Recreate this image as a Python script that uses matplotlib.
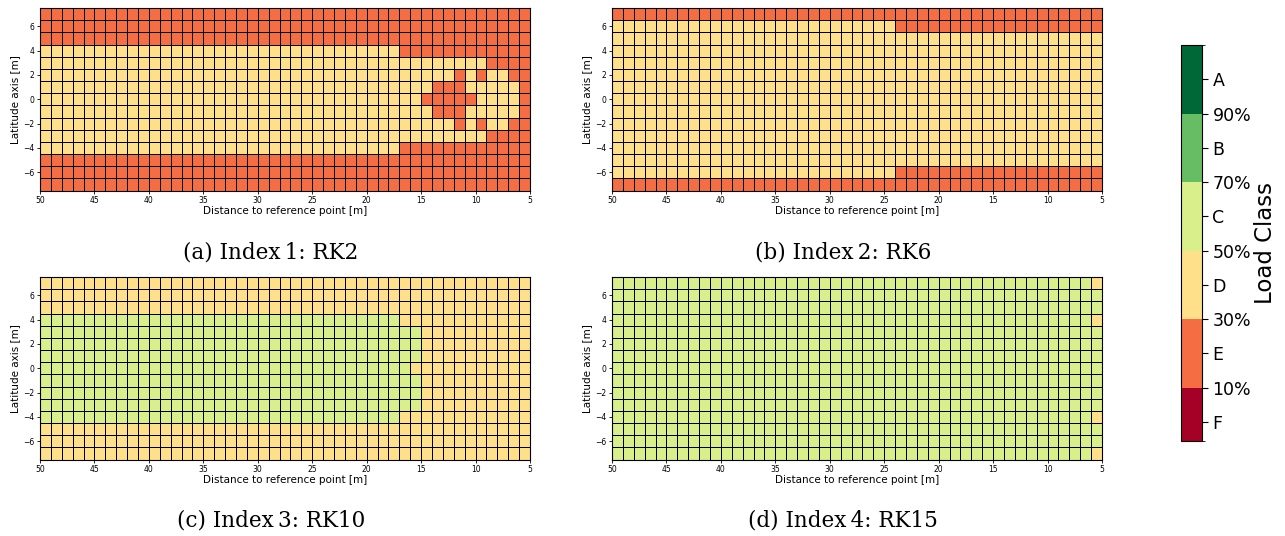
import numpy as np
import matplotlib
matplotlib.use("Agg")
import matplotlib.pyplot as plt
from matplotlib.colors import ListedColormap, BoundaryNorm
from matplotlib.cm import ScalarMappable

# Klassen von schlecht (F) bis gut (A)
classes = ["F", "E", "D", "C", "B", "A"]
class_colors = ["#a50026", "#f46d43", "#fee08b", "#d9ef8b", "#66bd63", "#006837"]
percent_labels = ["10%", "30%", "50%", "70%", "90%"]

x_edges = np.arange(50, 4, -1)          # 50 ... 5 m
y_edges = np.arange(-7.5, 8.0, 1.0)     # -7.5 ... 7.5 m
x_ticks = np.arange(50, 4, -5)
y_ticks = np.arange(-6, 7, 2)

# Zeilen von oben (y=7) nach unten (y=-7), Spalten von x=50 bis x=5
rk2 = [
    "E" * 45,
    "E" * 45,
    "E" * 45,
    "D" * 33 + "E" * 12,
    "D" * 41 + "E" * 4,
    "D" * 38 + "EDEDDEE",
    "D" * 36 + "EEE" + "D" * 5 + "E",
    "D" * 35 + "E" * 5 + "D" * 4 + "E",
    "D" * 36 + "EEE" + "D" * 5 + "E",
    "D" * 38 + "EDEDDEE",
    "D" * 41 + "E" * 4,
    "D" * 33 + "E" * 12,
    "E" * 45,
    "E" * 45,
    "E" * 45,
]

rk6 = [
    "E" * 45,
    "D" * 26 + "E" * 19,
    "D" * 45,
    "D" * 45,
    "D" * 45,
    "D" * 45,
    "D" * 45,
    "D" * 45,
    "D" * 45,
    "D" * 45,
    "D" * 45,
    "D" * 45,
    "D" * 45,
    "D" * 26 + "E" * 19,
    "E" * 45,
]

rk10 = [
    "D" * 45,
    "D" * 45,
    "D" * 45,
    "C" * 33 + "D" * 12,
    "C" * 35 + "D" * 10,
    "C" * 35 + "D" * 10,
    "C" * 35 + "D" * 10,
    "C" * 34 + "D" * 11,
    "C" * 35 + "D" * 10,
    "C" * 35 + "D" * 10,
    "C" * 35 + "D" * 10,
    "C" * 33 + "D" * 12,
    "D" * 45,
    "D" * 45,
    "D" * 45,
]

rk15 = [
    "C" * 44 + "D",
    "C" * 45,
    "C" * 45,
    "C" * 44 + "D",
    "C" * 45,
    "C" * 45,
    "C" * 45,
    "C" * 45,
    "C" * 45,
    "C" * 45,
    "C" * 45,
    "C" * 44 + "D",
    "C" * 45,
    "C" * 45,
    "C" * 44 + "D",
]

panels = [rk2, rk6, rk10, rk15]
captions = ["(a) Index\u20091: RK2", "(b) Index\u20092: RK6",
            "(c) Index\u20093: RK10", "(d) Index\u20094: RK15"]

cmap = ListedColormap(class_colors)
norm = BoundaryNorm(np.arange(-0.5, 6.0, 1.0), cmap.N)


def to_array(rows):
    arr = np.array([[classes.index(c) for c in r] for r in rows])
    return arr[::-1]  # unterste Zeile zuerst


W, H = 1285, 536
fig = plt.figure(figsize=(W / 100, H / 100), dpi=100)

# (links, oben) in Pixeln
pos = [(40, 8), (612, 8), (40, 277), (612, 277)]
ax_w, ax_h = 490, 182.5
cap_pos = [(271, 253), (843, 253), (271, 521), (843, 521)]

for rows, (px, py), cap, (cx, cy) in zip(panels, pos, captions, cap_pos):
    ax = fig.add_axes([px / W, 1 - (py + ax_h) / H, ax_w / W, ax_h / H])
    ax.pcolormesh(x_edges, y_edges, to_array(rows), cmap=cmap, norm=norm,
                  edgecolors="k", linewidth=0.65)
    ax.set_xlim(50, 5)
    ax.set_ylim(-7.5, 7.5)
    ax.set_xticks(x_ticks)
    ax.set_yticks(y_ticks)
    ax.tick_params(labelsize=5.5, length=2.5, width=0.6, pad=1.5)
    ax.set_xlabel("Distance to reference point [m]", fontsize=7.5, labelpad=1)
    ax.set_ylabel("Latitude axis [m]", fontsize=7.5, labelpad=2)
    fig.text(cx / W, 1 - cy / H, cap, ha="center", va="center",
             fontsize=15.5, family="DejaVu Serif")

# Farbleiste mit gekürztem unteren Feld
cb_bounds = [-0.28, 0.5, 1.5, 2.5, 3.5, 4.5, 5.5]
sm = ScalarMappable(norm=BoundaryNorm(cb_bounds, cmap.N), cmap=cmap)
cax = fig.add_axes([1181 / W, 1 - 441 / H, 21 / W, 396 / H])
cb = fig.colorbar(sm, cax=cax, spacing="proportional")
tick_pos = []
tick_lab = []
for i, c in enumerate(classes):
    tick_pos.append(i)
    tick_lab.append(c)
    if i < len(percent_labels):
        tick_pos.append(i + 0.5)
        tick_lab.append(percent_labels[i])
cb.set_ticks(tick_pos)
cb.set_ticklabels(tick_lab)
cb.ax.tick_params(labelsize=12.5, length=4, width=0.8)
cb.set_label("Load Class", fontsize=16.5, labelpad=2)
cb.outline.set_linewidth(0.8)

fig.savefig("out.png", dpi=100)
